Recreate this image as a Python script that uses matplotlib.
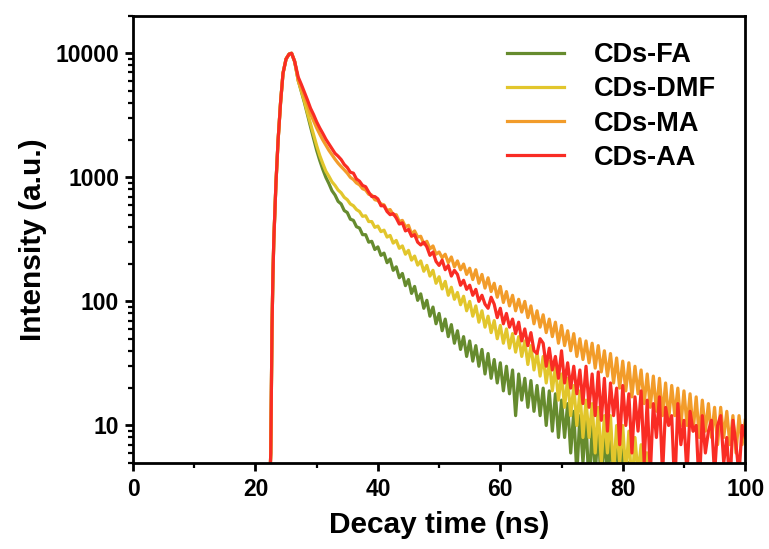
import numpy as np
import matplotlib
matplotlib.use('Agg')
import matplotlib.pyplot as plt
from matplotlib.ticker import LogLocator, FuncFormatter, MultipleLocator, NullFormatter

# ---- data (time in ns, counts) ----
# common rising edge of the pulse (all four samples overlap here)
rise_t = [22.3, 22.5, 22.7, 22.85, 23.0, 23.35, 23.7, 24.1, 24.5, 25.0, 25.5, 25.9, 26.4]
rise_i = [3, 6, 60, 160, 316, 900, 2000, 4000, 6900, 9000, 9850, 10000, 8600]

# decay tails, one channel every 0.5 ns starting at 27 ns
# (two values per row: t = n.0 and n.5)
t_fa = np.arange(27, 81.5, 0.5)
i_fa = [6000, 4900, 4000, 3200, 2550, 2050, 1650, 1370, 1160, 1000,
        890, 780, 720, 640, 610, 540, 520, 460, 450, 400,
        390, 345, 345, 300, 305, 262, 275, 235, 245, 205,
        220, 178, 190, 155, 168, 134, 150, 116, 132, 102,
        115, 88, 102, 76, 90, 66, 80, 58, 72, 52,
        65, 46, 58, 41, 52, 36, 48, 33, 44, 30,
        41, 26, 38, 24, 34, 22, 32, 19, 30, 18,
        28, 12, 26, 16, 24, 14, 23, 13, 21, 12,
        20, 10, 19, 9, 18, 8, 16, 8, 15, 6,
        13, 4, 12, 5, 11, 3, 10, 4, 10, 3,
        9, 4, 8, 3, 8, 4, 7, 3, 5]

t_dmf = np.arange(27, 84.5, 0.5)
i_dmf = [6000, 4950, 4100, 3300, 2700, 2200, 1800, 1500, 1290, 1120,
         1020, 920, 860, 790, 750, 690, 660, 610, 590, 550,
         530, 485, 490, 440, 440, 395, 405, 365, 375, 330,
         340, 295, 310, 268, 280, 240, 258, 215, 232, 196,
         212, 175, 195, 160, 178, 140, 158, 126, 145, 112,
         130, 104, 118, 94, 110, 84, 100, 76, 92, 68,
         84, 62, 76, 56, 70, 50, 64, 46, 60, 42,
         55, 39, 52, 36, 48, 31, 44, 28, 39, 25,
         36, 22, 33, 19, 30, 16, 26, 14, 24, 12,
         21, 10, 19, 8, 16, 8, 15, 6, 14, 5,
         12, 6, 12, 4, 10, 5, 10, 4, 9, 3,
         8, 4, 7, 3, 6]

t_ma = np.arange(27, 100.5, 0.5)
i_ma = [6000, 5200, 4500, 3850, 3250, 2850, 2500, 2230, 2000, 1820,
        1650, 1520, 1400, 1300, 1220, 1150, 1080, 1000, 960, 900,
        870, 810, 790, 730, 720, 660, 650, 610, 600, 540,
        550, 500, 500, 440, 450, 400, 410, 350, 370, 330,
        335, 290, 305, 265, 280, 240, 250, 225, 240, 205,
        228, 190, 212, 180, 200, 165, 185, 150, 180, 140,
        165, 128, 155, 120, 140, 108, 132, 98, 120, 92,
        112, 84, 104, 82, 100, 74, 92, 66, 84, 62,
        78, 56, 72, 52, 68, 46, 64, 44, 58, 40,
        55, 36, 50, 34, 48, 32, 46, 29, 44, 27,
        40, 25, 38, 22, 35, 20, 33, 19, 32, 17,
        30, 18, 28, 15, 26, 14, 25, 13, 24, 12,
        22, 11, 21, 12, 20, 10, 19, 10, 18, 9,
        17, 8, 16, 9, 15, 8, 14, 7, 14, 8,
        13, 7, 12, 6, 12, 7, 11]

t_aa = np.arange(27, 100.5, 0.5)
i_aa = [6400, 5600, 4850, 4200, 3600, 3200, 2800, 2500, 2260, 2030,
        1860, 1700, 1560, 1480, 1390, 1270, 1200, 1100, 1080, 970,
        930, 860, 840, 760, 700, 700, 670, 590, 590, 530,
        500, 510, 470, 420, 430, 370, 380, 335, 345, 300,
        285, 300, 275, 235, 250, 210, 195, 215, 180, 195,
        160, 178, 165, 135, 148, 125, 135, 112, 125, 100,
        112, 95, 88, 108, 95, 74, 88, 66, 80, 62,
        72, 55, 68, 48, 60, 44, 56, 40, 38, 50,
        46, 30, 42, 28, 36, 24, 40, 22, 32, 20,
        30, 18, 28, 15, 30, 14, 26, 12, 27, 11,
        24, 9, 22, 12, 20, 7, 21, 10, 18, 6,
        17, 9, 19, 5, 16, 4, 15, 8, 17, 4,
        14, 10, 12, 3, 15, 7, 11, 4, 13, 9,
        10, 3, 12, 6, 9, 11, 4, 10, 12, 5,
        8, 3, 11, 7, 4, 10, 8]

labels = ['CDs-FA', 'CDs-DMF', 'CDs-MA', 'CDs-AA']
colors = ['#668B2E', '#E2C62C', '#F29C2A', '#F92C24']

series = [(t_fa, i_fa), (t_dmf, i_dmf), (t_ma, i_ma), (t_aa, i_aa)]

fig = plt.figure(figsize=(7.69, 5.49), dpi=100)
ax = fig.add_axes([0.173, 0.157, 0.796, 0.814])

for (t, y), lab, c in zip(series, labels, colors):
    ax.plot(rise_t + list(t), rise_i + y, color=c, lw=2.3, label=lab)

ax.set_yscale('log')
ax.set_xlim(0, 100)
ax.set_ylim(5, 20000)

ax.xaxis.set_major_locator(MultipleLocator(20))
ax.xaxis.set_minor_locator(MultipleLocator(10))
ax.yaxis.set_major_locator(LogLocator(base=10, numticks=10))
ax.yaxis.set_minor_locator(LogLocator(base=10, subs=np.arange(2, 10), numticks=20))
ax.yaxis.set_major_formatter(FuncFormatter(lambda v, p: f'{int(round(v))}'))
ax.yaxis.set_minor_formatter(NullFormatter())

for sp in ax.spines.values():
    sp.set_linewidth(2.0)
ax.tick_params(which='major', direction='out', length=6, width=2.0,
               labelsize=16.5, pad=4)
ax.tick_params(axis='x', which='major', pad=5)
ax.tick_params(which='minor', direction='out', length=3.5, width=1.6)
for lbl in ax.get_xticklabels() + ax.get_yticklabels():
    lbl.set_fontweight('bold')
    lbl.set_fontfamily('Liberation Sans')

ax.set_xlabel('Decay time (ns)', fontsize=21.5, fontweight='bold',
              fontfamily='Liberation Sans', labelpad=7)
ax.set_ylabel('Intensity (a.u.)', fontsize=21.5, fontweight='bold',
              fontfamily='Liberation Sans', labelpad=6)

leg = ax.legend(loc='upper left', frameon=False, handlelength=2.1,
                handletextpad=1.1, labelspacing=0.3, borderpad=0,
                borderaxespad=0,
                prop={'family': 'Liberation Sans', 'weight': 'bold', 'size': 19.5},
                bbox_to_anchor=(0.611, 0.941))

fig.savefig('out.png', dpi=100, facecolor='white')
